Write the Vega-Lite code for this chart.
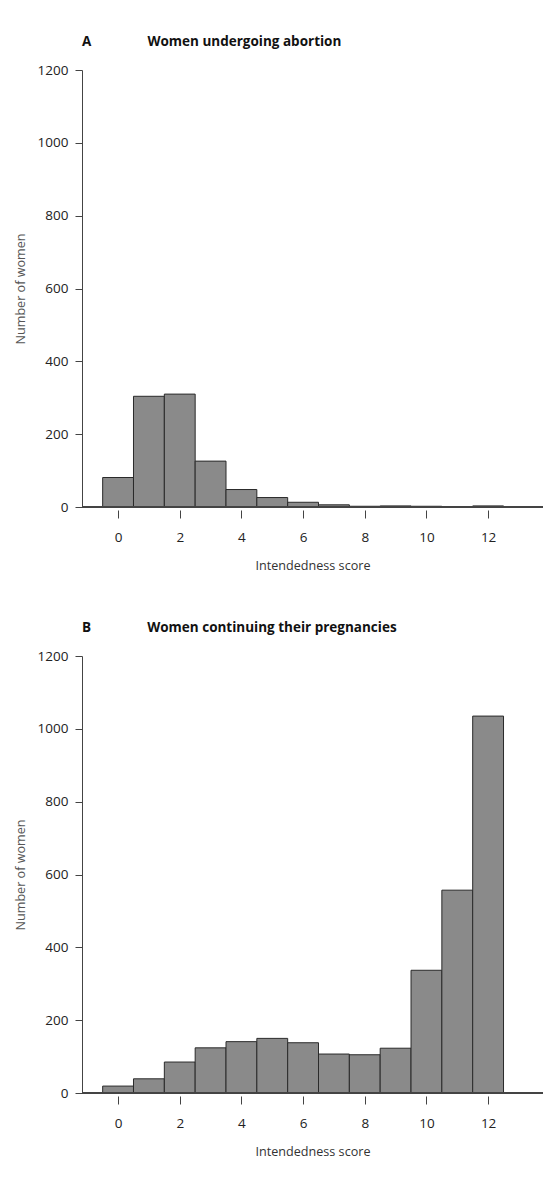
{
  "$schema": "https://vega.github.io/schema/vega-lite/v6.json",
  "background": "white",
  "padding": {"left": 14, "top": 34, "right": 0, "bottom": 5},
  "spacing": 47,
  "config": {
    "view": {"stroke": null},
    "font": "Open Sans",
    "axis": {"labelFont": "Open Sans", "titleFont": "Open Sans", "labelFontSize": 13.5, "titleFontSize": 12.6, "titleFontWeight": "normal", "labelColor": "#222", "domainColor": "#444", "tickColor": "#444", "grid": false},
    "title": {"font": "Open Sans", "fontSize": 13.5, "fontWeight": "bold", "anchor": "start", "frame": "group", "color": "#111", "offset": 15}
  },
  "datasets": {
    "abortion": [
      {"score": 0, "count": 81}, {"score": 1, "count": 304}, {"score": 2, "count": 310},
      {"score": 3, "count": 126}, {"score": 4, "count": 48}, {"score": 5, "count": 26},
      {"score": 6, "count": 13}, {"score": 7, "count": 6}, {"score": 8, "count": 2},
      {"score": 9, "count": 3}, {"score": 10, "count": 2}, {"score": 11, "count": 1},
      {"score": 12, "count": 3}
    ],
    "continuing": [
      {"score": 0, "count": 19}, {"score": 1, "count": 39}, {"score": 2, "count": 85},
      {"score": 3, "count": 124}, {"score": 4, "count": 141}, {"score": 5, "count": 150},
      {"score": 6, "count": 138}, {"score": 7, "count": 107}, {"score": 8, "count": 105},
      {"score": 9, "count": 123}, {"score": 10, "count": 337}, {"score": 11, "count": 557},
      {"score": 12, "count": 1035}
    ]
  },
  "vconcat": [
    {
      "title": {"text": "A\u00a0\u00a0\u00a0\u00a0\u00a0\u00a0\u00a0\u00a0\u00a0\u00a0\u00a0\u00a0\u00a0\u00a0\u00a0\u00a0Women undergoing abortion"},
      "width": 461,
      "height": 437,
      "data": {"name": "abortion"},
      "transform": [{"bin": {"step": 1, "anchor": -0.5, "extent": [-0.5, 12.5]}, "field": "score", "as": ["lo", "hi"]}],
      "layer": [
        {
          "mark": {"type": "bar", "fill": "#8a8a8a", "stroke": "#2a2a2a", "strokeWidth": 1},
          "encoding": {
            "x": {"field": "lo", "type": "quantitative", "scale": {"domain": [-1.17, 13.78], "nice": false, "zero": false},
                  "axis": {"values": [0, 2, 4, 6, 8, 10, 12], "domain": false, "offset": 3, "tickSize": 8, "labelPadding": 12, "title": "Intendedness score", "titlePadding": 16, "titleColor": "#333"}},
            "x2": {"field": "hi"},
            "y": {"field": "count", "type": "quantitative", "scale": {"domain": [0, 1200], "nice": false},
                  "axis": {"values": [0, 200, 400, 600, 800, 1000, 1200], "format": "d", "tickSize": 7, "labelPadding": 7, "title": "Number of women", "titleColor": "#555", "titlePadding": 10}},
            "y2": {"datum": 0}
          }
        },
        {
          "mark": {"type": "rule", "color": "#444", "strokeWidth": 1},
          "encoding": {"y": {"datum": 0}}
        }
      ]
    },
    {
      "title": {"text": "B\u00a0\u00a0\u00a0\u00a0\u00a0\u00a0\u00a0\u00a0\u00a0\u00a0\u00a0\u00a0\u00a0\u00a0\u00a0\u00a0Women continuing their pregnancies"},
      "width": 461,
      "height": 437,
      "data": {"name": "continuing"},
      "transform": [{"bin": {"step": 1, "anchor": -0.5, "extent": [-0.5, 12.5]}, "field": "score", "as": ["lo", "hi"]}],
      "layer": [
        {
          "mark": {"type": "bar", "fill": "#8a8a8a", "stroke": "#2a2a2a", "strokeWidth": 1},
          "encoding": {
            "x": {"field": "lo", "type": "quantitative", "scale": {"domain": [-1.17, 13.78], "nice": false, "zero": false},
                  "axis": {"values": [0, 2, 4, 6, 8, 10, 12], "domain": false, "offset": 3, "tickSize": 8, "labelPadding": 12, "title": "Intendedness score", "titlePadding": 16, "titleColor": "#333"}},
            "x2": {"field": "hi"},
            "y": {"field": "count", "type": "quantitative", "scale": {"domain": [0, 1200], "nice": false},
                  "axis": {"values": [0, 200, 400, 600, 800, 1000, 1200], "format": "d", "tickSize": 7, "labelPadding": 7, "title": "Number of women", "titleColor": "#555", "titlePadding": 10}},
            "y2": {"datum": 0}
          }
        },
        {
          "mark": {"type": "rule", "color": "#444", "strokeWidth": 1},
          "encoding": {"y": {"datum": 0}}
        }
      ]
    }
  ]
}
